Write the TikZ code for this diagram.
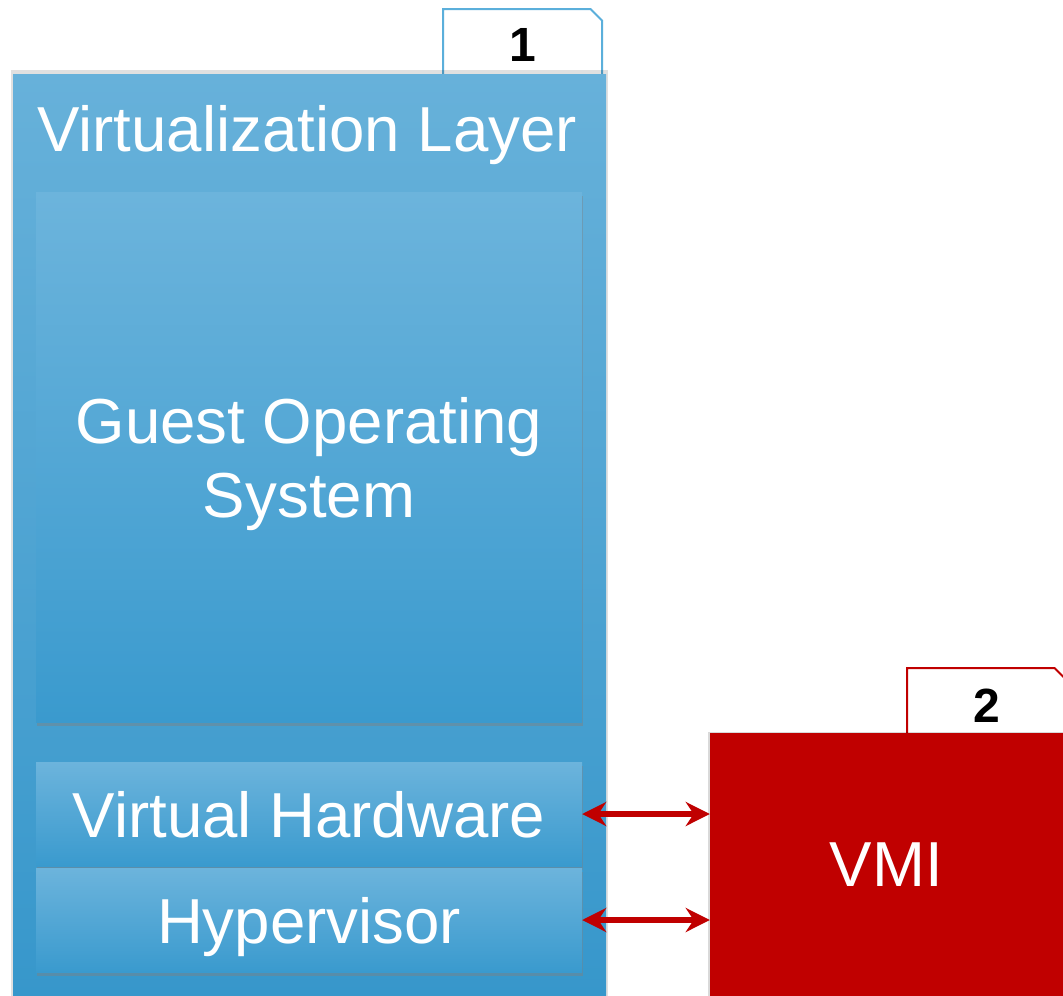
\documentclass[tikz,border=0pt]{standalone}
\usepackage{fontspec}
\setmainfont{Liberation Sans}
\usetikzlibrary{arrows.meta, shapes.misc, shadows, positioning}

\definecolor{layerTop}{HTML}{67B1DA}
\definecolor{layerBot}{HTML}{3797CB}
\definecolor{boxTop}{HTML}{6CB4DC}
\definecolor{boxBot}{HTML}{3A9ACE}
\definecolor{tabBlue}{HTML}{5BAFDB}
\definecolor{vmiRed}{HTML}{C00000}

\newcommand{\layerfont}{\fontsize{63.6}{74}\selectfont}
\newcommand{\tabfont}{\fontsize{48}{52}\selectfont\bfseries}

\begin{document}
\begin{tikzpicture}[
    x=1pt, y=-1pt,
    layer/.style={
        rectangle, top color=layerTop, bottom color=layerBot,
        minimum width=593pt, minimum height=922pt, inner sep=0pt,
        general shadow={fill=black, opacity=.12, shadow scale=1.008}
    },
    inner/.style={
        rectangle, top color=boxTop, bottom color=boxBot,
        minimum width=546pt, inner sep=0pt, text depth=0pt,
        text=white, align=center, font=\layerfont,
        drop shadow={shadow xshift=1pt, shadow yshift=-4pt, opacity=.45}
    },
    tab/.style={
        chamfered rectangle, chamfered rectangle corners=north east,
        chamfered rectangle xsep=6pt, chamfered rectangle ysep=5.5pt,
        fill=white, line width=2pt, inner sep=0pt,
        minimum width=159pt, font=\tabfont
    },
    link/.style={
        {Stealth[length=24pt, width=24pt]}-{Stealth[length=24pt, width=24pt]},
        line width=6.5pt, draw=vmiRed
    }
]
\useasboundingbox (0,0) rectangle (1063,996);

\node[tab, draw=tabBlue, minimum height=71pt] (tabone) at (522.5, 44.5) {1};
\node[tab, draw=vmiRed, minimum height=75pt]  (tabtwo) at (986.5, 705.5) {2};

\node[layer] (virt) at (309.5, 535) {};
\node[text=white, font=\layerfont, text depth=0pt] (virttitle) at (307, 128) {Virtualization Layer};

\node[inner, minimum height=530pt] (guest) at (309, 457) {Guest Operating\\System};
\node[inner, minimum height=104pt] (vhw)   at (309, 814) {Virtual Hardware};
\node[inner, minimum height=104pt] (hyp)   at (309, 920) {Hypervisor};

\node[rectangle, fill=vmiRed, minimum width=353pt, minimum height=263pt,
      inner sep=0pt, text=white, font=\layerfont, text depth=0pt,
      general shadow={fill=black, opacity=.15, shadow scale=1.01}] (vmi) at (886.5, 864.5) {VMI};

\draw[link] (vhw.east) -- (vmi.west |- vhw.east);
\draw[link] (hyp.east) -- (vmi.west |- hyp.east);

\end{tikzpicture}
\end{document}
